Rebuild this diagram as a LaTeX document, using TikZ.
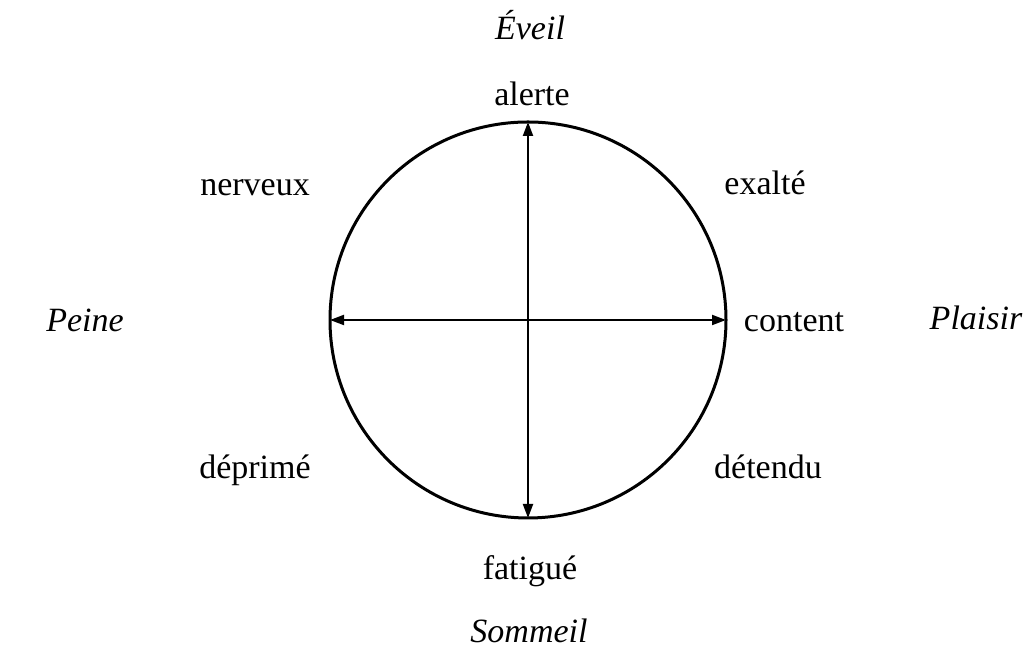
\documentclass[tikz,border=0pt]{standalone}
\usepackage{fontspec}
\setmainfont{Liberation Serif}
\usetikzlibrary{arrows.meta}

\def\Rad{198}
\def\LabelSize{\fontsize{17}{20}\selectfont}

\begin{document}
\begin{tikzpicture}[x=0.5pt,y=0.5pt,
  mood/.style={font=\LabelSize},
  pole/.style={font=\LabelSize\itshape},
  axis/.style={line width=1pt,{Triangle[length=7pt,width=5pt]}-{Triangle[length=7pt,width=5pt]}}]
  \useasboundingbox (0,0) rectangle (1028,651);
  % --- Circulo ---
  \node[circle, draw, line width=1.5pt, inner sep=0pt, outer sep=0pt,
        minimum size=\Rad pt] (ring) at (528,331) {};
  % --- Ejes ---
  \draw[axis] (ring.west) -- (ring.east);
  \draw[axis] (ring.north) -- (ring.south);
  % --- Estados ---
  \foreach \x/\y/\n/\t in {%
    532/557/alerte/alerte,
    765/468/exalte/exalté,
    255/463/nerveux/nerveux,
    794/329/content/content,
    255/181/deprime/déprimé,
    768/184/detendu/détendu,
    530/80/fatigue/fatigué
  }{
    \node[mood] (\n) at (\x,\y) {\t};
  }
  % --- Polos ---
  \foreach \x/\y/\n/\t in {%
    530/626/eveil/Éveil,
    85/331/peine/Peine,
    976/333/plaisir/Plaisir,
    529/20/sommeil/Sommeil
  }{
    \node[pole] (\n) at (\x,\y) {\t};
  }
\end{tikzpicture}
\end{document}
